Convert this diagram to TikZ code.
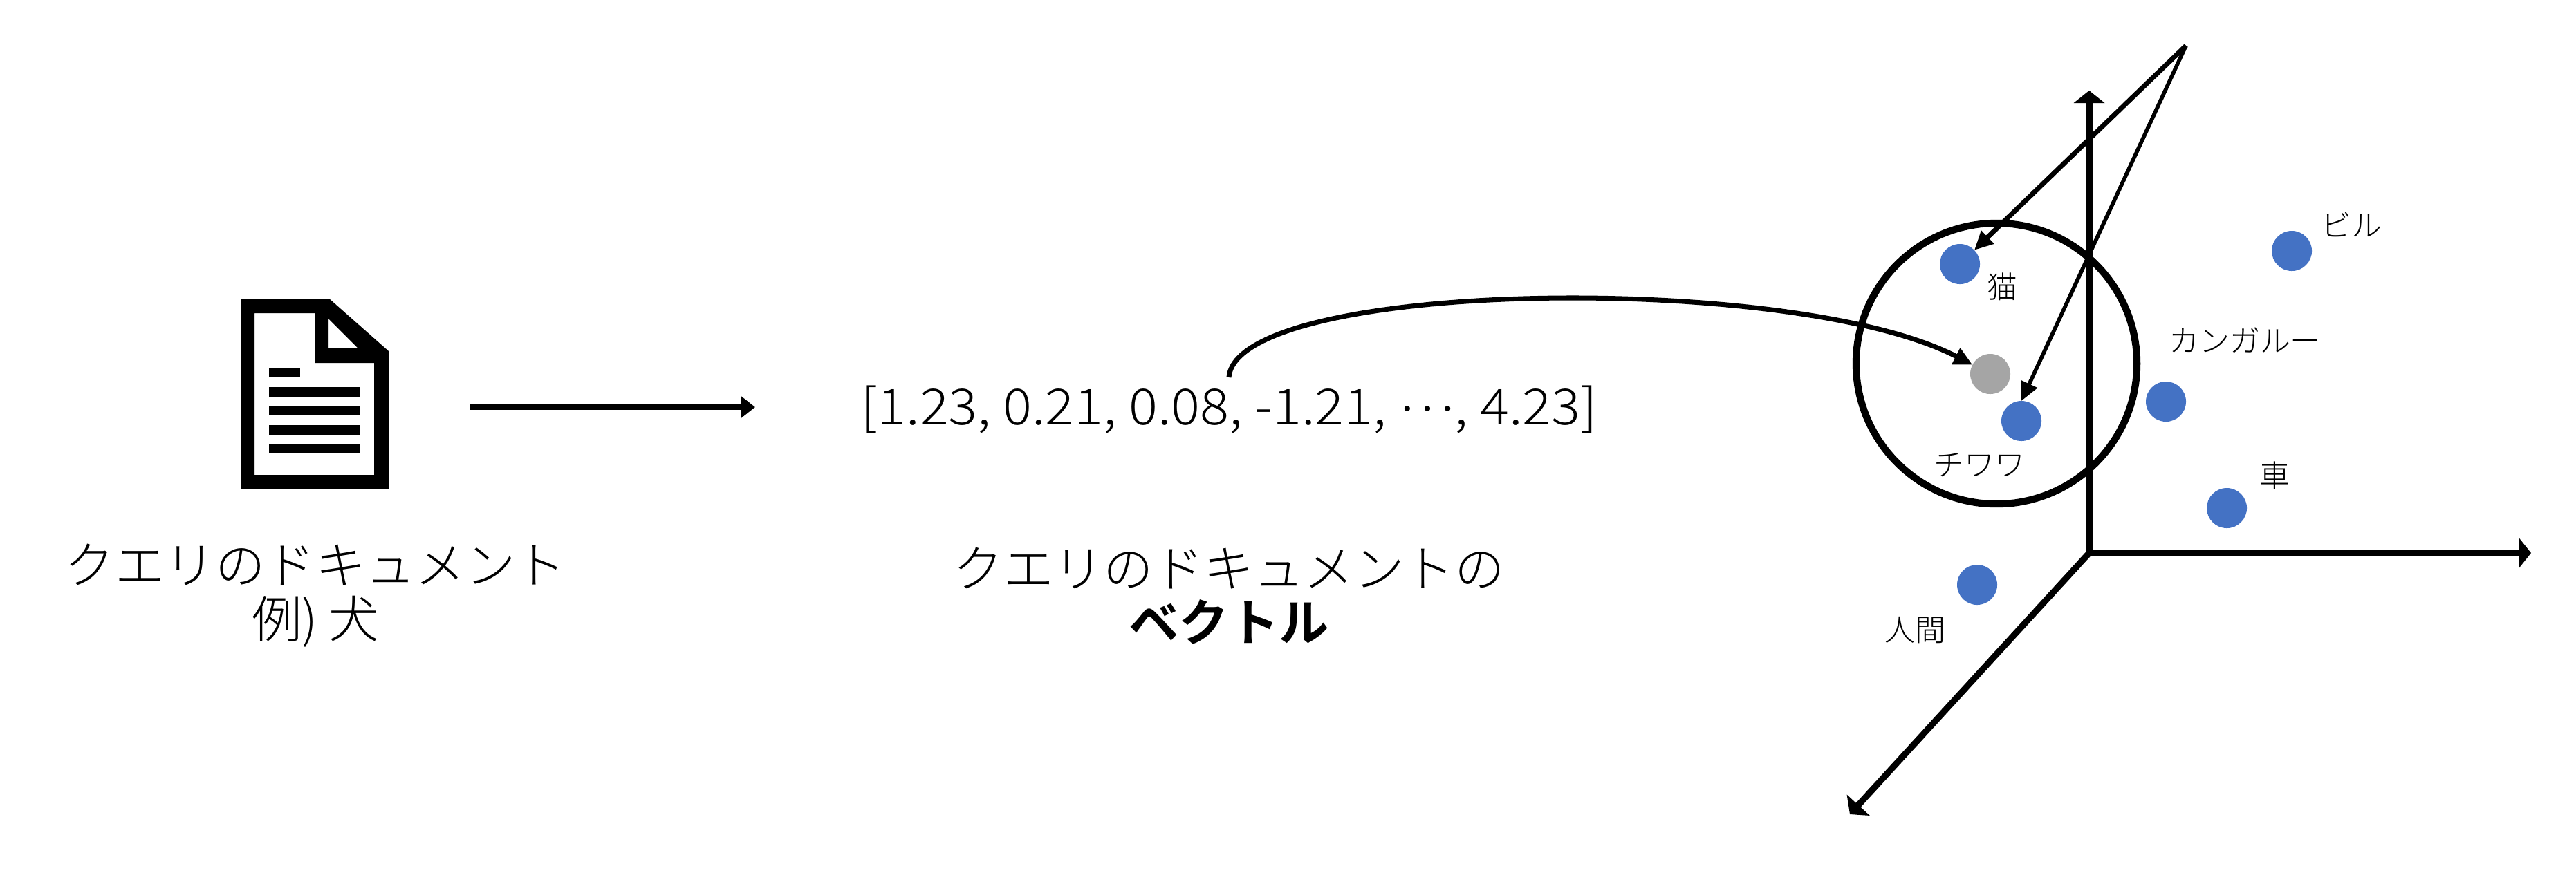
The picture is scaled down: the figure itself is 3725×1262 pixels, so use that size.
\documentclass[tikz,border=0pt]{standalone}
\usepackage{fontspec}
\usepackage{tikz}
\usetikzlibrary{arrows.meta}
\setmainfont{Noto Sans CJK JP Light}[BoldFont={Noto Sans CJK JP Bold}]
\newfontfamily\vecfont{Noto Sans CJK JP Light}[FakeStretch=1.085]
\definecolor{dotblue}{HTML}{4472C4}
\definecolor{dotgray}{HTML}{A5A5A5}
\tikzset{
  bigtext/.style={font=\fontsize{20.6pt}{22.2pt}\selectfont, align=center, inner sep=0pt},
  vectext/.style={font=\vecfont\fontsize{20.5pt}{22.2pt}\selectfont, inner sep=0pt},
  smalltext/.style={font=\fontsize{12.5pt}{14pt}\selectfont, inner sep=0pt},
  dot/.style={circle, fill=#1, minimum size=0.58cm, inner sep=0pt, outer sep=0pt},
  axis/.style={line width=2.6pt, -{Triangle[length=0.18cm,width=0.44cm]}},
  pointer/.style={line width=2pt, -{Triangle[length=0.27cm,width=0.25cm]}},
}

\begin{document}
\begin{tikzpicture}[x=0.01cm, y=-0.01cm]
  \useasboundingbox (0,0) rectangle (3725,1262);

  \fill[even odd rule] (348,432) -- (476,432) -- (562,508) -- (562,707) -- (348,707) -- cycle
    (368,453) -- (455,453) -- (455,525) -- (541,525) -- (541,687) -- (368,687) -- cycle
    (475,461) -- (518,504) -- (475,504) -- cycle;
  \fill (389,532) rectangle (434,546);
  \foreach \y in {560,587,615,642}
    \fill (389,\y) rectangle (520,\y+14);

  \node[bigtext] (query) at (456,862) {クエリのドキュメント\\例) 犬};
  \node[vectext] (vec) at (1777,593) {[1.23, 0.21, 0.08, -1.21, \raisebox{0.28em}{…}, 4.23]};
  \node[bigtext] (vectext) at (1777,862) {クエリのドキュメントの\\\bfseries ベクトル};
  \coordinate (docout) at (680,589);
  \coordinate (vecin) at (1092,589);
  \coordinate (vecout) at (1777,546);
  \draw[line width=2.2pt, -{Triangle[length=0.2cm,width=0.3cm]}] (docout) -- (vecin);

  \coordinate (o) at (3021,800);
  \coordinate (zend) at (3021,131);
  \coordinate (xend) at (3660,800);
  \coordinate (yend) at (2675,1178);
  \draw[axis] (o) -- (zend);
  \draw[axis] (o) -- (xend);
  \draw[axis] (o) -- (yend);

  \node[circle, draw, line width=2.9pt, minimum size=4.06cm, inner sep=0pt] (near) at (2887,526) {};

  \node[dot=dotblue] (cat) at (2834,382) {};
  \node[dot=dotblue] (bldg) at (3314,363) {};
  \node[dot=dotgray] (query2) at (2878,541) {};
  \node[dot=dotblue] (chihua) at (2923,609) {};
  \node[dot=dotblue] (kanga) at (3132,581) {};
  \node[dot=dotblue] (car) at (3220,735) {};
  \node[dot=dotblue] (human) at (2859,846) {};

  \node[smalltext] at (2895,415) {猫};
  \node[smalltext] at (3400,325) {ビル};
  \node[smalltext] at (3246,492) {カンガルー};
  \node[smalltext] at (2862,673) {チワワ};
  \node[smalltext] at (3289,688) {車};
  \node[smalltext] at (2769,912) {人間};

  \coordinate (apex) at (3161,66);
  \draw[pointer] (apex) -- (cat);
  \draw[pointer, line width=1.6pt] (apex) -- (chihua.north);
  \draw[pointer] (vecout) .. controls (1787,405) and (2590,392) .. (query2);
\end{tikzpicture}
\end{document}
